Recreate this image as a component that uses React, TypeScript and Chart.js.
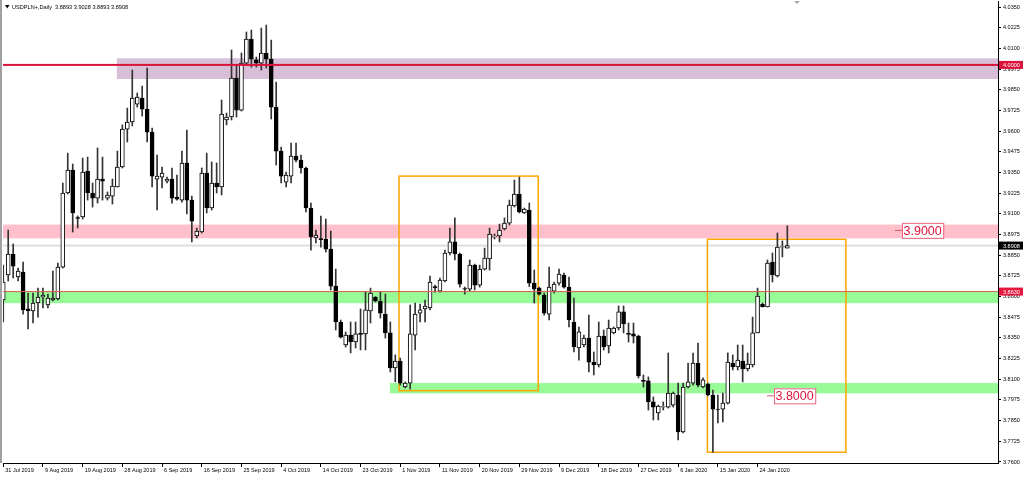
import React, { useEffect, useRef } from 'react';
import { Chart, registerables } from 'chart.js';

Chart.register(...registerables);

const FONT = '"Liberation Sans", Arial, sans-serif';

const titleText = 'USDPLN+,Daily  3.8893 3.9028 3.8893 3.8908';

const dateLabels = [
  '31 Jul 2019', '9 Aug 2019', '19 Aug 2019', '28 Aug 2019', '6 Sep 2019', '16 Sep 2019',
  '25 Sep 2019', '4 Oct 2019', '14 Oct 2019', '23 Oct 2019', '1 Nov 2019', '11 Nov 2019',
  '20 Nov 2019', '29 Nov 2019', '9 Dec 2019', '18 Dec 2019', '27 Dec 2019', '6 Jan 2020',
  '15 Jan 2020', '24 Jan 2020',
];
const dateLabelBars = [0, 8, 16, 24, 32, 40, 48, 56, 64, 72, 80, 88, 96, 104, 112, 120, 128, 136, 144, 152];

const priceTicks = [
  3.76, 3.7725, 3.785, 3.7975, 3.81, 3.8225, 3.835, 3.8475, 3.86, 3.8725, 3.885, 3.8975,
  3.91, 3.9225, 3.935, 3.9475, 3.96, 3.9725, 3.985, 3.9975, 4.01, 4.0225, 4.035,
];

const opens = [
  3.8579, 3.8730, 3.8857, 3.8718, 3.8748, 3.8525, 3.8513, 3.8561, 3.8597, 3.8549,
  3.8579, 3.8585, 3.8778, 3.9226, 3.9365, 3.9078, 3.9081, 3.9359, 3.9226, 3.9195,
  3.9310, 3.9195, 3.9207, 3.9262, 3.9383, 3.9612, 3.9655, 3.9763, 3.9800, 3.9733,
  3.9594, 3.9310, 3.9322, 3.9298, 3.9310, 3.9201, 3.9183, 3.9407, 3.9183, 3.8966,
  3.8990, 3.9346, 3.9135, 3.9286, 3.9262, 3.9667, 3.9685, 3.9921, 3.9727, 4.0011,
  4.0156, 4.0030, 4.0011, 4.0072, 4.0035, 3.9745, 3.9479, 3.9292, 3.9328, 3.9449,
  3.9425, 3.9377, 3.9135, 3.8954, 3.8950, 3.8948, 3.8887, 3.8663, 3.8446, 3.8307,
  3.8367, 3.8325, 3.8377, 3.8374, 3.8513, 3.8597, 3.8573, 3.8494, 3.8380, 3.8168,
  3.8210, 3.8053, 3.8077, 3.8367, 3.8500, 3.8525, 3.8531, 3.8660, 3.8633, 3.8694,
  3.8863, 3.8930, 3.8857, 3.8648, 3.8645, 3.8790, 3.8669, 3.8766, 3.8827, 3.8962,
  3.8966, 3.9008, 3.9044, 3.9147, 3.9220, 3.9105, 3.9123, 3.8681, 3.8651, 3.8609,
  3.8494, 3.8633, 3.8681, 3.8730, 3.8657, 3.8446, 3.8289, 3.8307, 3.8349, 3.8204,
  3.8186, 3.8361, 3.8301, 3.8380, 3.8410, 3.8507, 3.8377, 3.8374, 3.8361, 3.8093,
  3.8090, 3.7963, 3.7896, 3.7932, 3.7932, 3.7944, 3.8005, 3.7781, 3.8053, 3.8077,
  3.8198, 3.8053, 3.8071, 3.8005, 3.7920, 3.7920, 3.7956, 3.8198, 3.8174, 3.8210,
  3.8162, 3.8186, 3.8380, 3.8555, 3.8537, 3.8809, 3.8724, 3.8899, 3.8893,
];

const highs = [
  3.8790, 3.9002, 3.8918, 3.8772, 3.8809, 3.8621, 3.8621, 3.8651, 3.8651, 3.8615,
  3.8754, 3.8803, 3.9286, 3.9467, 3.9401, 3.9087, 3.9437, 3.9443, 3.9286, 3.9498,
  3.9443, 3.9232, 3.9310, 3.9479, 3.9637, 3.9739, 3.9969, 3.9830, 3.9872, 3.9981,
  3.9618, 3.9455, 3.9383, 3.9322, 3.9377, 3.9334, 3.9479, 3.9606, 3.9207, 3.9014,
  3.9377, 3.9467, 3.9413, 3.9407, 3.9788, 3.9709, 4.0090, 3.9999, 4.0072, 4.0199,
  4.0211, 4.0048, 4.0223, 4.0241, 4.0150, 3.9896, 3.9504, 3.9352, 3.9528, 3.9528,
  3.9455, 3.9383, 3.9165, 3.9002, 3.9087, 3.9069, 3.8996, 3.8766, 3.8458, 3.8386,
  3.8446, 3.8446, 3.8525, 3.8627, 3.8651, 3.8600, 3.8627, 3.8615, 3.8446, 3.8247,
  3.8228, 3.8084, 3.8549, 3.8561, 3.8555, 3.8579, 3.8724, 3.8669, 3.8712, 3.8881,
  3.9014, 3.9075, 3.8863, 3.8657, 3.8821, 3.8796, 3.8790, 3.8893, 3.9014, 3.8978,
  3.9038, 3.9075, 3.9183, 3.9304, 3.9322, 3.9135, 3.9165, 3.8760, 3.8657, 3.8621,
  3.8778, 3.8688, 3.8766, 3.8742, 3.8718, 3.8591, 3.8416, 3.8367, 3.8488, 3.8265,
  3.8446, 3.8398, 3.8458, 3.8416, 3.8543, 3.8543, 3.8440, 3.8440, 3.8367, 3.8126,
  3.8114, 3.7993, 3.7944, 3.7963, 3.8259, 3.8023, 3.8077, 3.8077, 3.8198, 3.8259,
  3.8319, 3.8108, 3.8077, 3.8035, 3.8005, 3.8017, 3.8259, 3.8247, 3.8307, 3.8307,
  3.8259, 3.8476, 3.8651, 3.8561, 3.8821, 3.8863, 3.8984, 3.8936, 3.9028,
];

const lows = [
  3.8446, 3.8694, 3.8712, 3.8694, 3.8494, 3.8404, 3.8440, 3.8476, 3.8531, 3.8531,
  3.8573, 3.8579, 3.8772, 3.9220, 3.8990, 3.9014, 3.9069, 3.9183, 3.9141, 3.9165,
  3.9183, 3.9183, 3.9159, 3.9262, 3.9377, 3.9534, 3.9631, 3.9745, 3.9691, 3.9534,
  3.9262, 3.9123, 3.9256, 3.9286, 3.9165, 3.9183, 3.9171, 3.9099, 3.8930, 3.8954,
  3.8984, 3.9105, 3.9123, 3.9226, 3.9214, 3.9637, 3.9667, 3.9685, 3.9721, 3.9999,
  3.9987, 3.9987, 3.9969, 3.9981, 3.9673, 3.9395, 3.9286, 3.9262, 3.9286, 3.9413,
  3.9346, 3.9111, 3.8881, 3.8924, 3.8899, 3.8869, 3.8640, 3.8398, 3.8349, 3.8295,
  3.8259, 3.8289, 3.8277, 3.8277, 3.8440, 3.8567, 3.8470, 3.8349, 3.8144, 3.8084,
  3.8065, 3.8047, 3.8041, 3.8277, 3.8446, 3.8446, 3.8519, 3.8627, 3.8627, 3.8688,
  3.8851, 3.8821, 3.8657, 3.8615, 3.8633, 3.8640, 3.8657, 3.8760, 3.8760, 3.8948,
  3.8930, 3.9002, 3.9032, 3.9141, 3.9105, 3.9102, 3.8660, 3.8561, 3.8609, 3.8488,
  3.8458, 3.8621, 3.8669, 3.8651, 3.8416, 3.8265, 3.8216, 3.8295, 3.8144, 3.8126,
  3.8174, 3.8277, 3.8259, 3.8374, 3.8398, 3.8380, 3.8325, 3.8319, 3.8108, 3.8053,
  3.7914, 3.7854, 3.7854, 3.7914, 3.7926, 3.7932, 3.7733, 3.7775, 3.8047, 3.8065,
  3.8053, 3.8047, 3.7999, 3.7660, 3.7836, 3.7842, 3.7950, 3.8156, 3.8156, 3.8084,
  3.8150, 3.8174, 3.8380, 3.8537, 3.8537, 3.8688, 3.8718, 3.8839, 3.8893,
];

const closes = [
  3.8688, 3.8857, 3.8784, 3.8754, 3.8519, 3.8513, 3.8561, 3.8597, 3.8609, 3.8591,
  3.8591, 3.8778, 3.9226, 3.9365, 3.9105, 3.9072, 3.9352, 3.9226, 3.9195, 3.9310,
  3.9298, 3.9214, 3.9268, 3.9383, 3.9612, 3.9655, 3.9800, 3.9806, 3.9733, 3.9594,
  3.9328, 3.9328, 3.9346, 3.9310, 3.9195, 3.9189, 3.9407, 3.9183, 3.9056, 3.8996,
  3.9346, 3.9135, 3.9286, 3.9262, 3.9703, 3.9685, 3.9921, 3.9727, 4.0011, 4.0156,
  4.0035, 4.0011, 4.0072, 4.0035, 3.9745, 3.9479, 3.9328, 3.9334, 3.9449, 3.9425,
  3.9377, 3.9135, 3.8960, 3.8972, 3.8944, 3.8887, 3.8663, 3.8446, 3.8355, 3.8367,
  3.8325, 3.8374, 3.8371, 3.8519, 3.8621, 3.8573, 3.8500, 3.8380, 3.8168, 3.8210,
  3.8077, 3.8077, 3.8374, 3.8494, 3.8519, 3.8543, 3.8688, 3.8654, 3.8700, 3.8863,
  3.8930, 3.8857, 3.8675, 3.8645, 3.8790, 3.8669, 3.8766, 3.8833, 3.8978, 3.8966,
  3.9002, 3.9044, 3.9153, 3.9220, 3.9111, 3.9129, 3.8681, 3.8645, 3.8615, 3.8500,
  3.8657, 3.8675, 3.8736, 3.8657, 3.8458, 3.8295, 3.8386, 3.8349, 3.8204, 3.8186,
  3.8361, 3.8295, 3.8410, 3.8410, 3.8507, 3.8434, 3.8371, 3.8361, 3.8120, 3.8087,
  3.7963, 3.7932, 3.7938, 3.7935, 3.8017, 3.8017, 3.7781, 3.8053, 3.8084, 3.8198,
  3.8065, 3.8096, 3.8005, 3.7920, 3.7917, 3.7956, 3.8204, 3.8174, 3.8216, 3.8162,
  3.8192, 3.8380, 3.8603, 3.8537, 3.8803, 3.8730, 3.8899, 3.8902, 3.8908,
];

// chart objects (time given as bar index, price as value)
const purpleZone = { from: 22.9, top: 4.004, bottom: 3.9915 };
const pinkZone = { top: 3.9035, bottom: 3.8952 };
const greenZone = { top: 3.8632, bottom: 3.856 };
const lowerGreenZone = { from: 77.9, top: 3.8077, bottom: 3.8015 };
const orangeBoxes = [
  { from: 79.75, to: 107.8, top: 3.9328, bottom: 3.8031 },
  { from: 141.9, to: 169.8, top: 3.8946, bottom: 3.7659 },
];
const redLevel = 4.0;
const supportLevel = 3.863;
const bidPrice = 3.8908;
const priceLabels = [
  { at: 179.7, value: 3.9, text: '3.9000' },
  { at: 153.9, value: 3.8, text: '3.8000' },
];
const axisMarks = [
  { value: 4.0, text: '4.0000', bg: '#DC143C' },
  { value: 3.8908, text: '3.8908', bg: '#000000' },
  { value: 3.863, text: '3.8630', bg: '#E5173F' },
];

const overlayPlugin = {
  id: 'mtOverlay',
  beforeDatasetsDraw(chart: any) {
    const { ctx, chartArea: a, scales } = chart;
    const x = scales.x, y = scales.y;
    ctx.save();
    ctx.beginPath();
    ctx.rect(a.left, a.top, a.right - a.left, a.bottom - a.top);
    ctx.clip();
    const fillZone = (z: any, color: string) => {
      const x0 = z.from == null ? a.left : x.getPixelForValue(z.from);
      const y0 = y.getPixelForValue(z.top);
      const y1 = y.getPixelForValue(z.bottom);
      ctx.fillStyle = color;
      ctx.fillRect(x0, y0, a.right - x0, y1 - y0);
    };
    fillZone(purpleZone, 'rgb(216,191,216)');
    fillZone(pinkZone, 'rgb(255,192,203)');
    fillZone(greenZone, 'rgb(152,251,152)');
    fillZone(lowerGreenZone, 'rgb(152,251,152)');
    // bid line
    const by = y.getPixelForValue(bidPrice);
    ctx.fillStyle = '#dedede';
    ctx.fillRect(a.left, by - 1, a.right - a.left, 2);
    // orange boxes
    ctx.strokeStyle = '#FFA500';
    ctx.lineWidth = 1.5;
    for (const b of orangeBoxes) {
      const x0 = x.getPixelForValue(b.from), x1 = x.getPixelForValue(b.to);
      const y0 = y.getPixelForValue(b.top), y1 = y.getPixelForValue(b.bottom);
      ctx.strokeRect(x0, y0, x1 - x0, y1 - y0);
    }
    ctx.restore();
  },
  afterDatasetsDraw(chart: any) {
    const { ctx, chartArea: a, scales } = chart;
    const x = scales.x, y = scales.y;
    ctx.save();
    const ry = y.getPixelForValue(redLevel);
    ctx.fillStyle = '#DC143C';
    ctx.fillRect(a.left, ry - 1, a.right - a.left, 2);
    const sy = y.getPixelForValue(supportLevel);
    ctx.fillStyle = 'rgb(214,96,78)';
    ctx.fillRect(a.left, sy - 0.5, a.right - a.left, 1);
    // price labels
    for (const p of priceLabels) {
      const px = x.getPixelForValue(p.at);
      const py = y.getPixelForValue(p.value);
      ctx.fillStyle = 'rgba(200,60,80,0.8)';
      ctx.fillRect(px, py - 0.5, 7, 1);
      ctx.font = '12.5px ' + FONT;
      const w = ctx.measureText(p.text).width;
      const bx = px + 7, bw = w + 3, bh = 15, byy = py - 7.5;
      ctx.fillStyle = '#ffffff';
      ctx.fillRect(bx, byy, bw, bh);
      ctx.strokeStyle = '#E8647C';
      ctx.lineWidth = 1;
      ctx.strokeRect(bx + 0.5, byy + 0.5, bw, bh);
      ctx.fillStyle = '#DC143C';
      ctx.textBaseline = 'middle';
      ctx.textAlign = 'left';
      ctx.fillText(p.text, bx + 1.5, py + 1);
    }
    ctx.restore();
  },
  afterDraw(chart: any) {
    const { ctx, chartArea: a, scales } = chart;
    const y = scales.y;
    ctx.save();
    // axis price marks
    ctx.font = '5.5px ' + FONT;
    ctx.textBaseline = 'middle';
    ctx.textAlign = 'left';
    for (const m of axisMarks) {
      const py = y.getPixelForValue(m.value);
      ctx.fillStyle = m.bg;
      ctx.fillRect(a.right + 1, py - 4, 24, 8);
      ctx.fillStyle = '#ffffff';
      ctx.fillText(m.text, a.right + 5, py + 0.5);
    }
    // left window border
    ctx.fillStyle = '#a0a0a0';
    ctx.fillRect(0, 0, 2, a.bottom);
    // title
    ctx.fillStyle = '#000';
    ctx.beginPath();
    ctx.moveTo(5, 5);
    ctx.lineTo(9.5, 5);
    ctx.lineTo(7.25, 8.5);
    ctx.closePath();
    ctx.fill();
    ctx.font = '5.6px ' + FONT;
    ctx.fillText(titleText, 12, 7.5);
    // chart shift marker
    ctx.fillStyle = '#a8a8a8';
    ctx.beginPath();
    ctx.moveTo(794, 1);
    ctx.lineTo(800, 1);
    ctx.lineTo(797, 4);
    ctx.closePath();
    ctx.fill();
    ctx.restore();
  },
};

export default function App() {
  const ref = useRef<HTMLCanvasElement | null>(null);
  useEffect(() => {
    if (!ref.current) return;
    const isBull = (i: number) => closes[i] >= opens[i];
    const wickData = highs.map((h, i) => ({ x: i, y: [lows[i], h] }));
    const bodyData = opens.map((o, i) => ({ x: i, y: [o, closes[i]] }));
    const tickFont = { family: FONT, size: 5.5 };
    const chart = new Chart(ref.current, {
      type: 'bar',
      data: {
        datasets: [
          {
            label: 'body',
            data: bodyData as any,
            order: 0,
            grouped: false,
            barThickness: 4,
            borderWidth: 1,
            borderSkipped: false,
            borderColor: '#000',
            backgroundColor: (c: any) => (isBull(c.dataIndex) ? '#ffffff' : '#000000'),
          } as any,
          {
            label: 'wick',
            data: wickData as any,
            order: 1,
            grouped: false,
            barThickness: 1,
            borderWidth: 0,
            backgroundColor: '#333333',
          } as any,
        ],
      },
      options: {
        animation: false,
        responsive: true,
        maintainAspectRatio: false,
        devicePixelRatio: 1,
        layout: { padding: { left: 3, top: 1, right: 0, bottom: 0 } },
        plugins: { legend: { display: false }, tooltip: { enabled: false } },
        events: [],
        scales: {
          x: {
            type: 'linear',
            offset: false,
            min: -0.05,
            max: 200.45,
            afterBuildTicks: (s: any) => {
              s.ticks = dateLabelBars.map((v) => ({ value: v }));
            },
            afterFit: (s: any) => {
              s.height = 14;
              s.paddingLeft = 0;
              s.paddingRight = 0;
            },
            ticks: {
              autoSkip: false,
              maxRotation: 0,
              minRotation: 0,
              align: 'start',
              labelOffset: 2,
              padding: 0,
              color: '#000',
              font: tickFont,
              callback: (_v: any, idx: number) => dateLabels[idx] ?? '',
            },
            grid: { offset: false, drawOnChartArea: false, drawTicks: true, tickLength: 4, color: '#000' },
            border: { display: true, color: '#000', width: 1 },
          } as any,
          y: {
            type: 'linear',
            position: 'right',
            min: 3.75939,
            max: 4.03863,
            afterBuildTicks: (s: any) => {
              s.ticks = priceTicks.map((v) => ({ value: v }));
            },
            afterFit: (s: any) => {
              s.width = 26;
              s.paddingTop = 0;
              s.paddingBottom = 0;
            },
            ticks: {
              padding: 2,
              color: '#000',
              font: tickFont,
              callback: (v: any) => Number(v).toFixed(4),
            },
            grid: { drawOnChartArea: false, drawTicks: true, tickLength: 3, color: '#000' },
            border: { display: true, color: '#000', width: 1 },
          } as any,
        },
      },
      plugins: [overlayPlugin as any],
    });
    return () => chart.destroy();
  }, []);
  return (
    <div style={{ position: 'fixed', left: 0, top: 0, width: 1024, height: 477, background: '#fff' }}>
      <canvas ref={ref} />
    </div>
  );
}
